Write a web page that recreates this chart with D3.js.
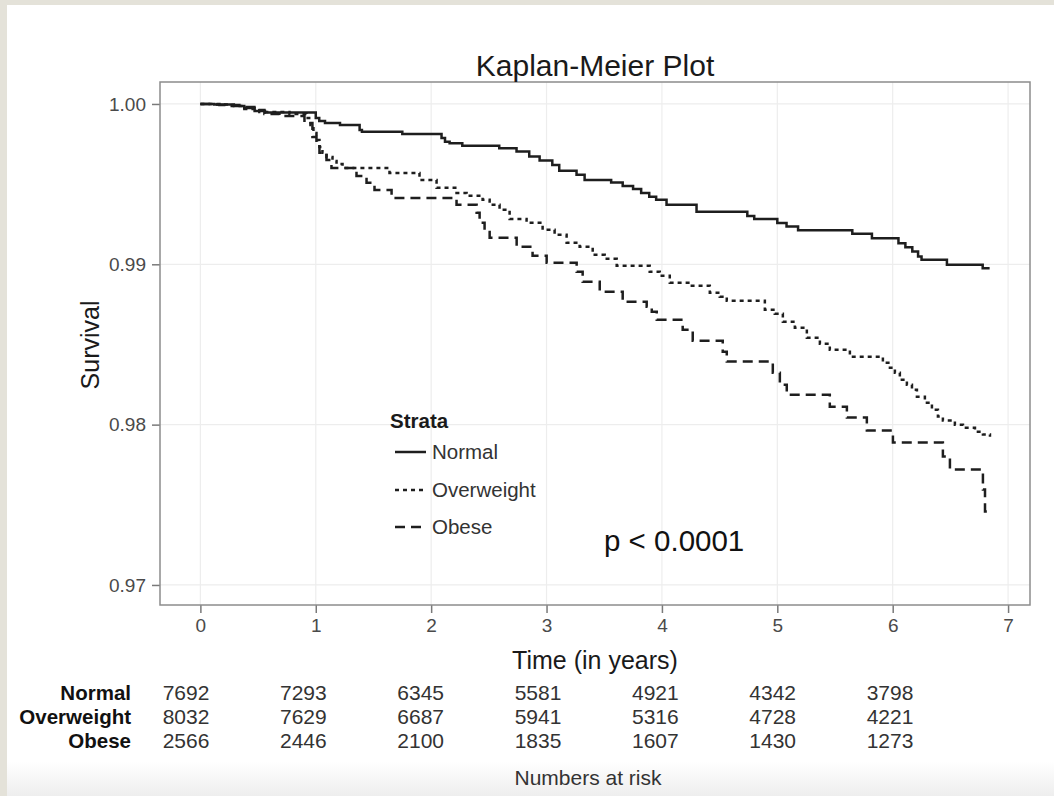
<!DOCTYPE html>
<html>
<head>
<meta charset="utf-8">
<script src="https://cdn.jsdelivr.net/npm/d3@7/dist/d3.min.js"></script>
<style>
  html, body { margin: 0; padding: 0; background: #ffffff; }
  svg { display: block; font-family: "Liberation Sans", Arial, Helvetica, sans-serif; }
</style>
</head>
<body>
<svg id="chart" width="1054" height="796"></svg>
<script>
// Kaplan-Meier survival estimates by BMI group: [time in years, survival after the step]
const normalSteps = [
  [0, 1.0], [0.12, 0.99997], [0.29, 0.99988], [0.38, 0.99975], [0.47, 0.99956],
  [0.56, 0.99947], [1.00, 0.99913], [1.03, 0.99894], [1.08, 0.99882], [1.21, 0.99869],
  [1.38, 0.99838], [1.40, 0.99826], [1.75, 0.99813], [2.09, 0.99788], [2.12, 0.99765],
  [2.16, 0.99755], [2.27, 0.99740], [2.59, 0.99724], [2.74, 0.99703], [2.85, 0.99672],
  [2.94, 0.99648], [3.05, 0.99620], [3.11, 0.99584], [3.26, 0.99558], [3.33, 0.99526],
  [3.56, 0.99510], [3.66, 0.99489], [3.75, 0.99469], [3.82, 0.99444], [3.89, 0.99422],
  [3.95, 0.99402], [4.04, 0.99371], [4.30, 0.99327], [4.74, 0.99302], [4.80, 0.99282],
  [5.00, 0.99257], [5.08, 0.99236], [5.18, 0.99213], [5.65, 0.99190], [5.82, 0.99163],
  [6.05, 0.99132], [6.11, 0.99107], [6.17, 0.99080], [6.22, 0.99049], [6.25, 0.99028],
  [6.47, 0.98997], [6.78, 0.98976], [6.84, 0.98976]
];
const overweightSteps = [
  [0, 1.0], [0.121, 0.99997], [0.252, 0.99988], [0.381, 0.99969], [0.511, 0.99950],
  [0.772, 0.99938], [0.919, 0.99913], [0.954, 0.99869], [0.980, 0.99819], [1.006, 0.99776],
  [1.032, 0.99732], [1.058, 0.99695], [1.093, 0.99670], [1.145, 0.99645], [1.180, 0.99626],
  [1.232, 0.99601], [1.639, 0.99570], [1.899, 0.99526], [2.047, 0.99477], [2.220, 0.99445],
  [2.307, 0.99427], [2.446, 0.99402], [2.507, 0.99371], [2.593, 0.99340], [2.680, 0.99283],
  [2.827, 0.99259], [2.966, 0.99215], [3.070, 0.99184], [3.174, 0.99134], [3.287, 0.99109],
  [3.400, 0.99059], [3.504, 0.99034], [3.608, 0.98991], [3.894, 0.98953], [3.981, 0.98928],
  [4.068, 0.98885], [4.241, 0.98866], [4.415, 0.98822], [4.501, 0.98798], [4.562, 0.98773],
  [4.892, 0.98717], [4.978, 0.98692], [5.048, 0.98642], [5.152, 0.98604], [5.256, 0.98542],
  [5.369, 0.98505], [5.455, 0.98467], [5.629, 0.98424], [5.915, 0.98386], [5.976, 0.98355],
  [6.019, 0.98324], [6.062, 0.98280], [6.123, 0.98249], [6.167, 0.98218], [6.210, 0.98174],
  [6.279, 0.98137], [6.340, 0.98093], [6.392, 0.98050], [6.435, 0.98025], [6.539, 0.98000],
  [6.609, 0.97981], [6.713, 0.97956], [6.782, 0.97938], [6.843, 0.97925]
];
const obeseSteps = [
  [0, 1.0], [0.165, 0.99994], [0.338, 0.99981], [0.468, 0.99963], [0.555, 0.99938],
  [0.685, 0.99925], [0.902, 0.99882], [0.971, 0.99794], [1.006, 0.99745], [1.032, 0.99695],
  [1.093, 0.99651], [1.136, 0.99601], [1.353, 0.99551], [1.440, 0.99508], [1.509, 0.99464],
  [1.657, 0.99414], [2.220, 0.99371], [2.394, 0.99321], [2.420, 0.99259], [2.463, 0.99202],
  [2.507, 0.99165], [2.741, 0.99109], [2.879, 0.99053], [3.001, 0.99009], [3.261, 0.98953],
  [3.313, 0.98891], [3.461, 0.98829], [3.660, 0.98766], [3.868, 0.98735], [3.912, 0.98704],
  [3.955, 0.98654], [4.180, 0.98592], [4.267, 0.98523], [4.527, 0.98455], [4.562, 0.98393],
  [4.961, 0.98324], [5.022, 0.98249], [5.082, 0.98187], [5.455, 0.98112], [5.603, 0.98044],
  [5.776, 0.97963], [6.002, 0.97888], [6.435, 0.97801], [6.496, 0.97720], [6.782, 0.97595],
  [6.800, 0.97458], [6.843, 0.97458]
];

const strataNames = ["Normal", "Overweight", "Obese"];
const strataDash = ["none", "4,4", "10,6"];

const xTicks = [0, 1, 2, 3, 4, 5, 6, 7];
const yTicks = [0.97, 0.98, 0.99, 1.00];

// Numbers at risk at years 0..6
const riskTimes = [0, 1, 2, 3, 4, 5, 6];
const riskNormal = [7692, 7293, 6345, 5581, 4921, 4342, 3798];
const riskOverweight = [8032, 7629, 6687, 5941, 5316, 4728, 4221];
const riskObese = [2566, 2446, 2100, 1835, 1607, 1430, 1273];

const svg = d3.select("#chart");

// page frame
const defs = svg.append("defs");
const grad = defs.append("linearGradient").attr("id", "footShade")
  .attr("x1", 0).attr("y1", 0).attr("x2", 0).attr("y2", 1);
grad.append("stop").attr("offset", "0%").attr("stop-color", "#ffffff");
grad.append("stop").attr("offset", "100%").attr("stop-color", "#eeeeee");
svg.append("rect").attr("x", 0).attr("y", 0).attr("width", 1054).attr("height", 796).attr("fill", "#ffffff");
svg.append("rect").attr("x", 0).attr("y", 762).attr("width", 1054).attr("height", 34).attr("fill", "url(#footShade)");
svg.append("rect").attr("x", 0).attr("y", 0).attr("width", 1054).attr("height", 5).attr("fill", "#e4e2d9");
svg.append("rect").attr("x", 0).attr("y", 0).attr("width", 7).attr("height", 796).attr("fill", "#e4e2d9");

const panel = { left: 160, right: 1030, top: 82, bottom: 605 };

const x = d3.scaleLinear().domain([-0.35, 7.19]).range([panel.left, panel.right]);
const y = d3.scaleLinear().domain([0.96875, 1.00137]).range([panel.bottom, panel.top]);

// grid
const grid = svg.append("g");
grid.selectAll("line.v").data(xTicks).join("line")
  .attr("x1", d => x(d)).attr("x2", d => x(d))
  .attr("y1", panel.top).attr("y2", panel.bottom)
  .attr("stroke", "#ededed").attr("stroke-width", 1.2);
grid.selectAll("line.h").data(yTicks).join("line")
  .attr("y1", d => y(d)).attr("y2", d => y(d))
  .attr("x1", panel.left).attr("x2", panel.right)
  .attr("stroke", "#ededed").attr("stroke-width", 1.2);

// axes
const xAxis = svg.append("g")
  .attr("transform", `translate(0,${panel.bottom})`)
  .call(d3.axisBottom(x).tickValues(xTicks).tickFormat(d3.format("d")).tickSize(8).tickPadding(6));
const yAxis = svg.append("g")
  .attr("transform", `translate(${panel.left},0)`)
  .call(d3.axisLeft(y).tickValues(yTicks).tickFormat(d3.format(".2f")).tickSize(8).tickPadding(6));
[xAxis, yAxis].forEach(g => {
  g.select(".domain").remove();
  g.selectAll(".tick line").attr("stroke", "#7a7a7a").attr("stroke-width", 1.5);
  g.selectAll(".tick text").attr("fill", "#4a4a4a").style("font-size", "19px")
    .style("font-family", "'Liberation Sans', Arial, sans-serif");
});

// panel border
svg.append("rect")
  .attr("x", panel.left).attr("y", panel.top)
  .attr("width", panel.right - panel.left).attr("height", panel.bottom - panel.top)
  .attr("fill", "none").attr("stroke", "#8c8c8c").attr("stroke-width", 1.5);

// survival curves
const stepLine = d3.line().x(d => x(d[0])).y(d => y(d[1])).curve(d3.curveStepAfter);
const series = [normalSteps, overweightSteps, obeseSteps];
svg.append("g").selectAll("path").data(series).join("path")
  .attr("d", d => stepLine(d))
  .attr("fill", "none")
  .attr("stroke", "#1e1e1e")
  .attr("stroke-width", 2.5)
  .attr("stroke-dasharray", (d, i) => strataDash[i]);

// titles
svg.append("text").attr("x", (panel.left + panel.right) / 2).attr("y", 76)
  .attr("text-anchor", "middle").attr("fill", "#1a1a1a")
  .style("font-size", "30px").text("Kaplan-Meier Plot");
svg.append("text").attr("x", (panel.left + panel.right) / 2).attr("y", 669)
  .attr("text-anchor", "middle").attr("fill", "#1a1a1a")
  .style("font-size", "25px").text("Time (in years)");
svg.append("text")
  .attr("transform", `translate(99,345) rotate(-90)`)
  .attr("text-anchor", "middle").attr("fill", "#1a1a1a")
  .style("font-size", "25px").text("Survival");

// legend
const legend = svg.append("g").attr("transform", "translate(390,0)");
legend.append("text").attr("x", 0).attr("y", 428)
  .style("font-size", "20.5px").style("font-weight", "bold").attr("fill", "#1a1a1a").text("Strata");
const legendY = [452, 490, 527];
strataNames.forEach((name, i) => {
  legend.append("line").attr("x1", 5).attr("x2", 36)
    .attr("y1", legendY[i]).attr("y2", legendY[i])
    .attr("stroke", "#1e1e1e").attr("stroke-width", 2.5)
    .attr("stroke-dasharray", strataDash[i]);
  legend.append("text").attr("x", 42).attr("y", legendY[i] + 7)
    .style("font-size", "20.5px").attr("fill", "#333333").text(name);
});

// p-value
svg.append("text").attr("x", 604).attr("y", 551)
  .style("font-size", "29.5px").attr("fill", "#111111").text("p < 0.0001");

// numbers at risk table
const riskX = d3.scaleLinear().domain([0, 6]).range([186, 890]);
const riskRows = [riskNormal, riskOverweight, riskObese];
const rowY = [692, 716, 740];
const table = svg.append("g");
riskRows.forEach((row, r) => {
  table.append("text").attr("x", 131).attr("y", rowY[r] + 7.5)
    .attr("text-anchor", "end").style("font-size", "20.5px").style("font-weight", "bold")
    .attr("fill", "#111111").text(strataNames[r]);
  table.selectAll(null).data(row).join("text")
    .attr("x", (d, i) => riskX(riskTimes[i])).attr("y", rowY[r] + 7.5)
    .attr("text-anchor", "middle").style("font-size", "21px").attr("fill", "#333333")
    .text(d => d);
});
svg.append("text").attr("x", 588).attr("y", 785)
  .attr("text-anchor", "middle").style("font-size", "21px").attr("fill", "#333333")
  .text("Numbers at risk");
</script>
</body>
</html>
